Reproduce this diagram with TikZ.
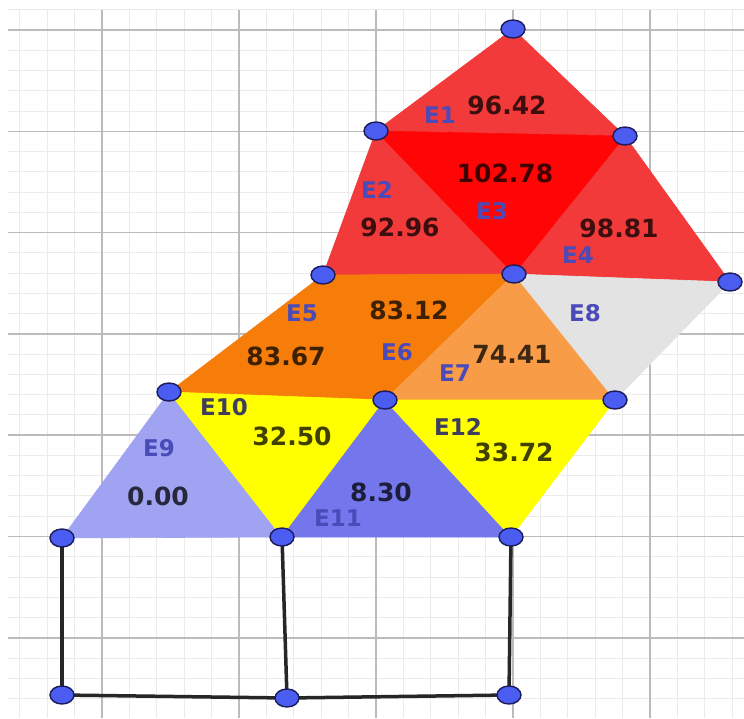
\documentclass[tikz,border=0pt]{standalone}
\usepackage{fontspec}
\setmainfont{DejaVu Sans}
\usetikzlibrary{shapes.geometric}
\definecolor{gmajor}{HTML}{BBBBBB}
\definecolor{gminor}{HTML}{EBEBEB}
\definecolor{redA}{HTML}{F23A3A}
\definecolor{redB}{HTML}{FF0505}
\definecolor{orA}{HTML}{F77D0A}
\definecolor{orB}{HTML}{F99C48}
\definecolor{greyE}{HTML}{E3E3E3}
\definecolor{yel}{HTML}{FFFF00}
\definecolor{lavA}{HTML}{A0A2F2}
\definecolor{lavB}{HTML}{7476EC}
\definecolor{dotfill}{HTML}{4B5CF0}
\definecolor{dotline}{HTML}{1C1C5C}
\definecolor{elabcol}{HTML}{4A4AB8}
\definecolor{elabdark}{HTML}{3E3E5C}
\begin{document}
\begin{tikzpicture}[x=1pt,y=-1pt,
  vtx/.style={ellipse,draw=dotline,fill=dotfill,line width=1.4pt,minimum width=24pt,minimum height=18pt,inner sep=0pt},
  elab/.style={font=\bfseries\fontsize{23}{23}\selectfont,text=elabcol,inner sep=0pt},
  elabd/.style={elab,text=elabdark},
  val/.style={font=\bfseries\fontsize{25}{25}\selectfont,text=black,text opacity=0.75,inner sep=0pt},
  edge/.style={line width=3.5pt,draw=black!85},
  tri/.style={line width=0.6pt}
  ]
\useasboundingbox (0,0) rectangle (744,718);
\fill[white] (0,0) rectangle (744,718);
% grid
\foreach \i in {0,...,27} {\draw[gminor,line width=1pt] ({19.8+27.4*\i},10) -- ({19.8+27.4*\i},718);}
\foreach \i in {0,...,34} {\draw[gminor,line width=1pt] (8,{9.74+20.26*\i}) -- (744,{9.74+20.26*\i});}
\foreach \x in {102,239,376,513,650} {\draw[gmajor,line width=1.6pt] (\x,10) -- (\x,718);}
\foreach \y in {30,131.3,232.6,333.9,435.2,536.5,637.8} {\draw[gmajor,line width=1.6pt] (8,\y) -- (744,\y);}
% vertices
\coordinate (pA) at (513,29);
\coordinate (pB) at (376,131);
\coordinate (pC) at (625,136);
\coordinate (pD) at (323,275);
\coordinate (pE) at (514,274);
\coordinate (pF) at (730,282);
\coordinate (pG) at (169,392);
\coordinate (pH) at (385,400);
\coordinate (pI) at (615,400);
\coordinate (pJ) at (62,538);
\coordinate (pK) at (282,537);
\coordinate (pL) at (511,537);
\coordinate (pM) at (62,695);
\coordinate (pN) at (287,698);
\coordinate (pO) at (509,695);
% triangles
\filldraw[tri,redA] (pA) -- (pB) -- (pC) -- cycle;
\filldraw[tri,redA] (pB) -- (pD) -- (pE) -- cycle;
\filldraw[tri,redA] (pC) -- (pE) -- (pF) -- cycle;
\filldraw[tri,redB] (pB) -- (pC) -- (pE) -- cycle;
\filldraw[tri,orA] (pD) -- (pG) -- (pH) -- cycle;
\filldraw[tri,orA] (pD) -- (pE) -- (pH) -- cycle;
\filldraw[tri,orB] (pE) -- (pH) -- (pI) -- cycle;
\filldraw[tri,greyE] (pE) -- (pF) -- (pI) -- cycle;
\filldraw[tri,lavA] (pG) -- (pJ) -- (pK) -- cycle;
\filldraw[tri,yel] (pG) -- (pH) -- (pK) -- cycle;
\filldraw[tri,lavB] (pH) -- (pK) -- (pL) -- cycle;
\filldraw[tri,yel] (pH) -- (pI) -- (pL) -- cycle;
% bottom frame
\draw[edge] (pJ) -- (pM);
\draw[edge] (pK) -- (pN);
\draw[edge] (pL) -- (pO);
\draw[edge] (pM) -- (pN);
\draw[edge] (pN) -- (pO);
% labels
\node[elab] (l1) at (440,115) {E1};
\node[val] (v1) at (507,105) {96.42};
\node[elab] (l2) at (377,190) {E2};
\node[val] (v2) at (400,227) {92.96};
\node[elab] (l3) at (492,211) {E3};
\node[val] (v3) at (505,173) {102.78};
\node[elab] (l4) at (578,255) {E4};
\node[val] (v4) at (619,228) {98.81};
\node[elab] (l5) at (302,313) {E5};
\node[val] (v5) at (409,310) {83.12};
\node[val] (v6) at (286,356) {83.67};
\node[elab] (l6) at (397,352) {E6};
\node[elab] (l7) at (455,373) {E7};
\node[val] (v7) at (512,354) {74.41};
\node[elab] (l8) at (585,313) {E8};
\node[elabd] (l10) at (224,407) {E10};
\node[val] (v10) at (292,436) {32.50};
\node[elab] (l9) at (159,448) {E9};
\node[val] (v9) at (158,496) {0.00};
\node[val] (v11) at (381,492) {8.30};
\node[elab] (l11) at (338,518) {E11};
\node[elabd] (l12) at (458,427) {E12};
\node[val] (v12) at (514,452) {33.72};
% vertex dots
\foreach \p in {A,B,C,D,E,F,G,H,I,J,K,L,M,N,O} {\node[vtx] (d\p) at (p\p) {};}
\end{tikzpicture}
\end{document}
